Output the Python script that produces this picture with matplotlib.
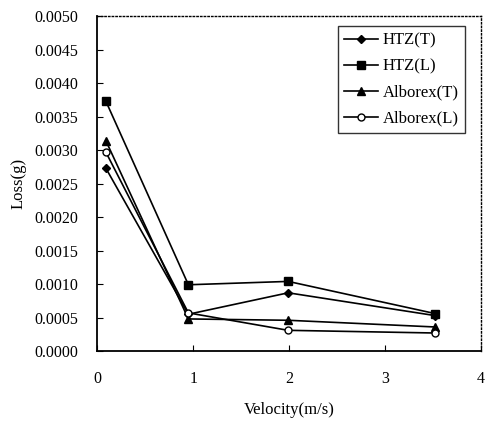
import numpy as np
import matplotlib.pyplot as plt

plt.rcParams['font.family'] = ['Liberation Serif', 'DejaVu Serif']

velocity = [0.09, 0.95, 1.99, 3.52]
htz_t = [0.00273, 0.00055, 0.00087, 0.00053]
htz_l = [0.00373, 0.00099, 0.00104, 0.00056]
alb_t = [0.00314, 0.00048, 0.00046, 0.00036]
alb_l = [0.00297, 0.00057, 0.00031, 0.00027]
labels = ['HTZ(T)', 'HTZ(L)', 'Alborex(T)', 'Alborex(L)']

fig = plt.figure(figsize=(4.86, 4.22), dpi=100)
ax = fig.add_axes([0.2, 0.168, 0.79, 0.794])

ax.plot(velocity, htz_t, color='black', lw=1.2, marker='D', ms=4.5, label=labels[0])
ax.plot(velocity, htz_l, color='black', lw=1.2, marker='s', ms=6, label=labels[1])
ax.plot(velocity, alb_t, color='black', lw=1.2, marker='^', ms=6, label=labels[2])
ax.plot(velocity, alb_l, color='black', lw=1.2, marker='o', ms=5, mfc='white', label=labels[3])

ax.set_xlim(0, 4)
ax.set_ylim(0, 0.005)
ax.set_xticks([0, 1, 2, 3, 4])
ax.set_yticks(np.arange(0, 0.00501, 0.0005))
ax.set_yticklabels([f'{v:.4f}' for v in np.arange(0, 0.00501, 0.0005)])
ax.tick_params(direction='in', length=4, labelsize=11.5, color='black')
ax.tick_params(axis='x', pad=14)
ax.tick_params(axis='y', pad=14)

for s in ['top', 'right']:
    ax.spines[s].set_linestyle(':')
    ax.spines[s].set_linewidth(1.0)
for s in ['left', 'bottom']:
    ax.spines[s].set_linewidth(1.3)

ax.set_xlabel('Velocity(m/s)', fontsize=12, labelpad=11)
ax.set_ylabel('Loss(g)', fontsize=12, labelpad=5)

leg = ax.legend(loc='upper right', fontsize=12, frameon=True, fancybox=False,
                edgecolor='black', handlelength=2.0, borderaxespad=0.6,
                borderpad=0.4, labelspacing=0.6, handletextpad=0.3,
                bbox_to_anchor=(0.985, 1.0))
leg.get_frame().set_linewidth(1.0)

fig.savefig('out.png', dpi=100)
